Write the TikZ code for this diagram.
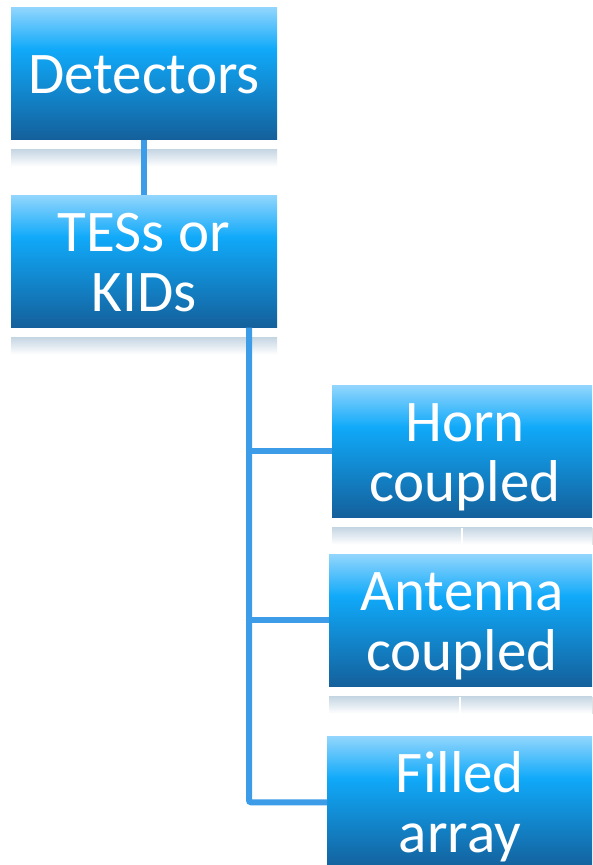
\documentclass[tikz,border=0pt]{standalone}
\usepackage{fontspec}
\setmainfont{Carlito}
\definecolor{blight}{RGB}{146,214,253}
\definecolor{bmid}{RGB}{16,169,249}
\definecolor{bdark}{RGB}{20,96,155}
\definecolor{connc}{RGB}{60,156,232}
\definecolor{refl}{RGB}{198,214,227}
\pgfdeclareverticalshading{boxshade}{100bp}{color(0bp)=(bdark); color(25bp)=(bdark); color(59bp)=(bmid); color(75bp)=(blight); color(100bp)=(blight)}
\newcommand{\twolines}[2]{\begin{tabular}[t]{@{}c@{}}#1\\#2\end{tabular}}
\begin{document}
\begin{tikzpicture}[x=1pt,y=-1pt,
  box/.style={shading=boxshade, minimum width=266pt, inner sep=0pt, outer sep=0pt,
    text=white, font=\fontsize{59}{60}\selectfont, anchor=north},
  onel/.style={text height=86pt, text depth=46.5pt},
  twol/.style={text height=56pt, text depth=76.5pt},
  reflect/.style={top color=refl, bottom color=white, draw=none},
  gapline/.style={draw=white, line width=1.5pt},
  conn/.style={draw=connc, line width=6pt}]
\useasboundingbox (0,0) rectangle (592,865);
\clip (0,0) rectangle (592,865);
\fill[white] (0,0) rectangle (592,865);

\node[box, onel] (det) at (144,7) {Detectors};
\node[box, twol] (tes) at (144,195) {\twolines{TESs or}{KIDs}};
\node[box, twol] (horn) at (465,385) {\twolines{Horn}{coupled}};
\node[box, twol] (ant) at (462,554) {\twolines{Antenna}{coupled}};
\node[box, twol] (fil) at (460,736) {\twolines{Filled}{array}};

\foreach \b in {det,tes,horn,ant}{
  \fill[reflect] ([yshift=-10pt]\b.south west) rectangle ([yshift=-27pt]\b.south east);
}
\draw[gapline] ([xshift=-3pt,yshift=-10pt]horn.south) -- ([xshift=-3pt,yshift=-27pt]horn.south);
\draw[gapline] ([xshift=-2pt,yshift=-10pt]ant.south) -- ([xshift=-2pt,yshift=-27pt]ant.south);

\coordinate (trunk) at ([xshift=-28pt]tes.south east);
\draw[conn] (det) -- (tes);
\draw[conn] (trunk) |- (horn.west);
\draw[conn] (trunk) |- (ant.west);
\draw[conn, rounded corners=2pt] (trunk) |- (fil.west);
\end{tikzpicture}
\end{document}
